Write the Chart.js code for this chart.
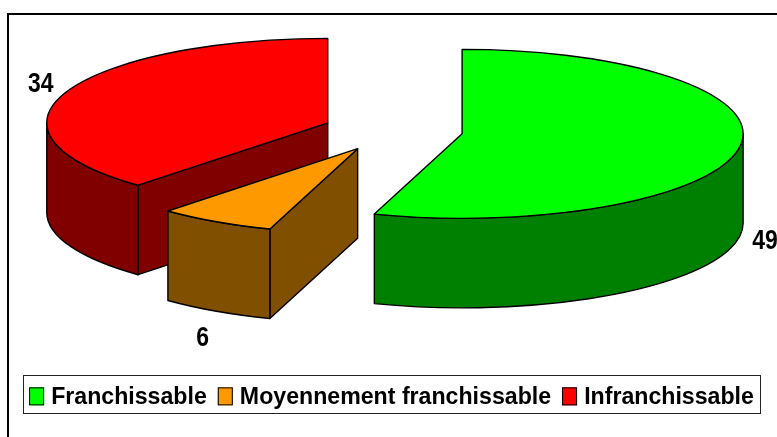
<!DOCTYPE html>
<html>
<head>
<meta charset="utf-8">
<title>Franchissabilité</title>
<script src="https://cdn.jsdelivr.net/npm/chart.js@4/dist/chart.umd.min.js"></script>
<style>
  html, body { margin: 0; padding: 0; background: #fff; }
  canvas { display: block; }
</style>
</head>
<body>
<canvas id="pie3d" width="777" height="437"></canvas>
<script>
const categories = ['Franchissable', 'Moyennement franchissable', 'Infranchissable'];
const values = [49, 6, 34];
const topColors = ['#00ff00', '#ff9900', '#ff0000'];
const wallColors = ['#008000', '#805000', '#800000'];

// the look of the fake 3d pie
const radius = 281;
const squash = 84.5 / 281;
const depth = 89.5;
const explode = 70;
const pieX = 393;
const pieY = 130.5;
// where each value label sits, relative to the centre of its own slice
const labelShift = [[303, 107.5], [-155, 189.5], [-287, -38.5]];

let baseY = 0;

function faceCentre(arc) {
    return { x: arc.x, y: pieY + (arc.y - baseY) * squash };
}

function rimPoint(c, angle) {
    return { x: c.x + radius * Math.cos(angle), y: c.y + radius * squash * Math.sin(angle) };
}

function drawCutFace(ctx, c, angle, color) {
    const p = rimPoint(c, angle);
    ctx.beginPath();
    ctx.moveTo(c.x, c.y);
    ctx.lineTo(p.x, p.y);
    ctx.lineTo(p.x, p.y + depth);
    ctx.lineTo(c.x, c.y + depth);
    ctx.closePath();
    ctx.fillStyle = color;
    ctx.fill();
    ctx.stroke();
}

function drawOuterWall(ctx, c, from, to, color) {
    if (from >= to) return;
    const ry = radius * squash;
    ctx.beginPath();
    ctx.ellipse(c.x, c.y, radius, ry, 0, from, to);
    ctx.ellipse(c.x, c.y + depth, radius, ry, 0, to, from, true);
    ctx.closePath();
    ctx.fillStyle = color;
    ctx.fill();
    ctx.stroke();
}

const pie3dPlugin = {
    id: 'pie3d',
    beforeDraw(chart) {
        const ctx = chart.ctx;
        ctx.save();
        ctx.strokeStyle = '#000';
        ctx.lineWidth = 2;
        ctx.strokeRect(8, 14, 800, 500);
        ctx.restore();
    },
    afterDatasetsUpdate(chart) {
        chart.getDatasetMeta(0).data.forEach(arc => {
            baseY = arc.y;
            const mid = (arc.startAngle + arc.endAngle) / 2;
            arc.x = pieX + Math.cos(mid) * explode;
            arc.y = baseY + Math.sin(mid) * explode;
        });
    },
    beforeDatasetsDraw(chart) {
        const ctx = chart.ctx;
        const arcs = chart.getDatasetMeta(0).data;
        ctx.save();
        ctx.strokeStyle = '#000';
        ctx.lineWidth = 1.4;
        ctx.lineJoin = 'round';
        // back slices first
        for (let i = arcs.length - 1; i >= 0; i--) {
            const arc = arcs[i];
            const c = faceCentre(arc);
            if (Math.cos(arc.startAngle) < -1e-6) drawCutFace(ctx, c, arc.startAngle, wallColors[i]);
            if (Math.cos(arc.endAngle) > 1e-6) drawCutFace(ctx, c, arc.endAngle, wallColors[i]);
            drawOuterWall(ctx, c, Math.max(arc.startAngle, 0), Math.min(arc.endAngle, Math.PI), wallColors[i]);
        }
        ctx.restore();
        // the library paints the top faces, flattened
        ctx.save();
        ctx.translate(0, pieY);
        ctx.scale(1, squash);
        ctx.translate(0, -baseY);
    },
    afterDatasetsDraw(chart) {
        const ctx = chart.ctx;
        ctx.restore();
        const arcs = chart.getDatasetMeta(0).data;
        ctx.save();
        ctx.strokeStyle = '#000';
        ctx.lineWidth = 1.4;
        ctx.lineJoin = 'round';
        arcs.forEach(arc => {
            const c = faceCentre(arc);
            ctx.beginPath();
            ctx.moveTo(c.x, c.y);
            ctx.ellipse(c.x, c.y, radius, radius * squash, 0, arc.startAngle, arc.endAngle);
            ctx.closePath();
            ctx.stroke();
        });
        ctx.fillStyle = '#000';
        ctx.font = 'bold 28px "Liberation Sans", Arial, sans-serif';
        ctx.textAlign = 'center';
        ctx.textBaseline = 'middle';
        arcs.forEach((arc, i) => {
            const c = faceCentre(arc);
            // the original digits are tall and narrow
            ctx.save();
            ctx.translate(c.x + labelShift[i][0], c.y + labelShift[i][1]);
            ctx.scale(0.82, 1);
            ctx.fillText(values[i], 0, 0);
            ctx.restore();
        });
        ctx.restore();
    },
    afterDraw(chart) {
        const ctx = chart.ctx;
        const boxes = chart.legend.legendHitBoxes;
        ctx.save();
        ctx.strokeStyle = '#222';
        ctx.lineWidth = 1;
        ctx.strokeRect(23.5, Math.round(boxes[0].top - 11) + 0.5, 737, 38);
        // swatches sit closer to the text than the legend allows, so they go on top of its boxes
        boxes.forEach((b, i) => {
            ctx.fillStyle = topColors[i];
            ctx.strokeStyle = '#000';
            ctx.lineWidth = 1;
            ctx.fillRect(b.left, b.top + 1.5, 15, 18);
            ctx.strokeRect(b.left + 0.5, b.top + 2, 14, 17);
        });
        ctx.restore();
    }
};

new Chart(document.getElementById('pie3d').getContext('2d'), {
    type: 'pie',
    data: {
        labels: categories,
        datasets: [{
            data: values,
            backgroundColor: topColors,
            borderWidth: 0,
            clip: false
        }]
    },
    options: {
        responsive: false,
        animation: false,
        radius: radius,
        layout: { padding: { left: 6, right: 0, top: 0, bottom: 18 } },
        plugins: {
            tooltip: { enabled: false },
            legend: {
                position: 'bottom',
                labels: {
                    boxWidth: 10.5,
                    boxHeight: 12,
                    padding: 11,
                    color: '#000',
                    font: { family: '"Liberation Sans", Arial, sans-serif', size: 23.15, weight: 'bold' }
                }
            }
        }
    },
    plugins: [pie3dPlugin]
});
</script>
</body>
</html>
